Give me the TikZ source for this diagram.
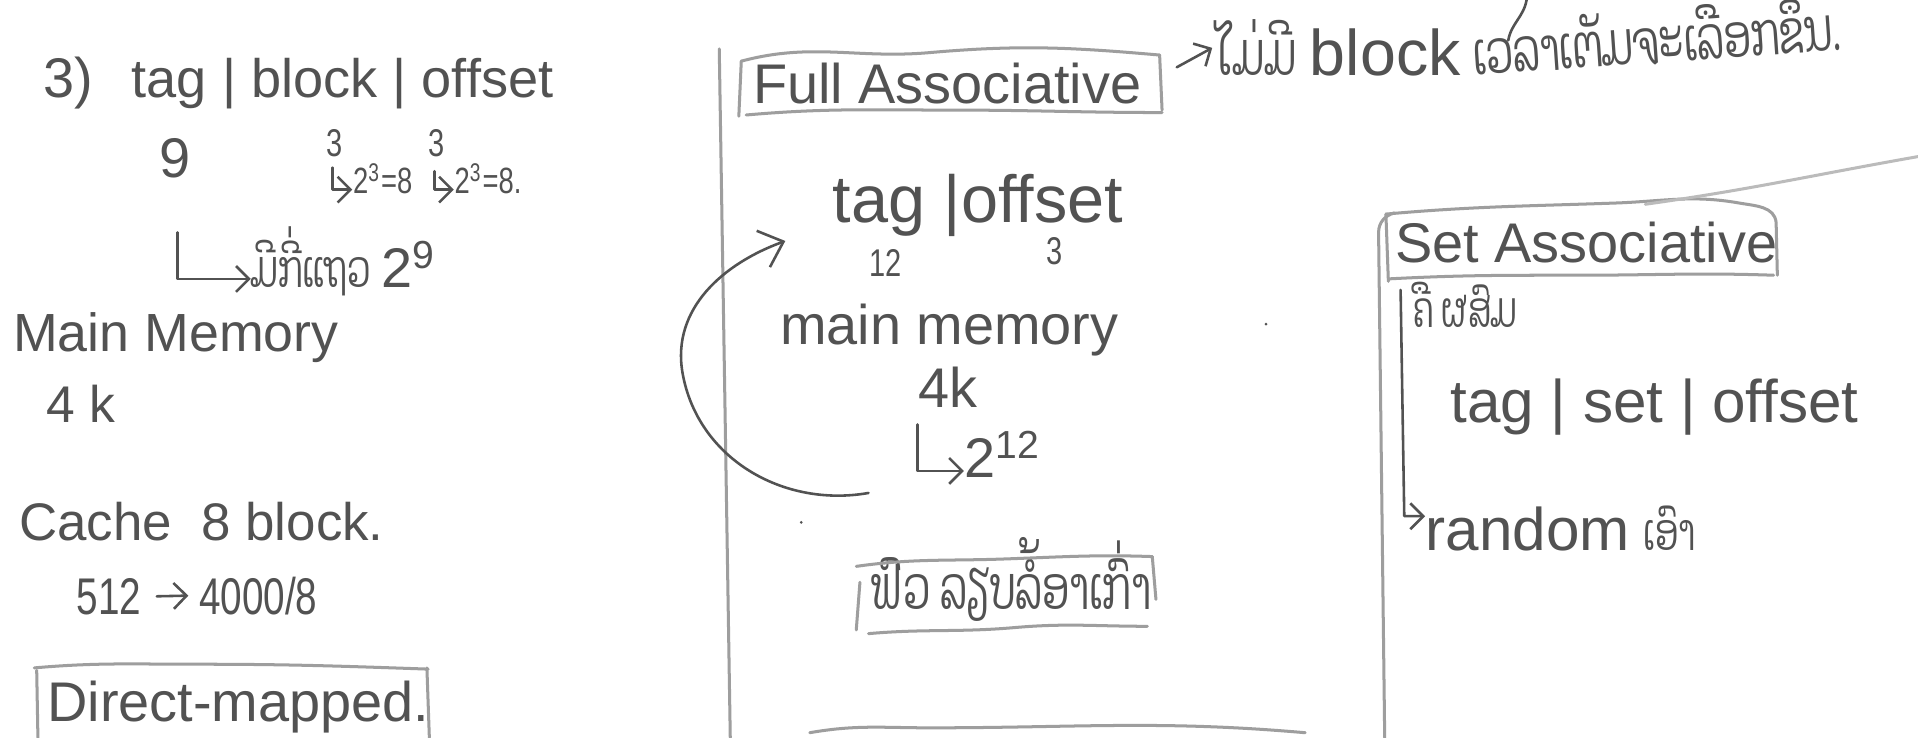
\documentclass[tikz,border=0pt]{standalone}
\usepackage{fontspec}
\setmainfont{Liberation Sans}
\newfontfamily\narrowfont[FakeStretch=0.75]{Liberation Sans}
\newfontfamily\laofont[Script=Lao,FakeStretch=0.65]{Dhyana}
\usepackage{tikz}
\usetikzlibrary{arrows,arrows.meta}
\usetikzlibrary{calc}
\colorlet{pencil}{black!68}
\colorlet{pencilfaint}{black!38}
\tikzset{>={Straight Barb[length=3pt,width=6pt]}}
\tikzstyle{hand}=[text=pencil, inner sep=0pt, anchor=base west, font=\fontsize{13}{15}\selectfont]
\tikzstyle{small}=[hand, font=\narrowfont\fontsize{9}{11}\selectfont]
\tikzstyle{narrow}=[hand, font=\narrowfont\fontsize{12}{14}\selectfont]
\tikzstyle{lao}=[hand, font=\laofont\fontsize{14}{16}\selectfont]
\tikzstyle{stroke}=[draw=pencil, line width=0.6, line cap=round, line join=round]
\tikzstyle{frame}=[draw=pencilfaint, line width=0.7, line cap=round]

\begin{document}
\begin{tikzpicture}
  \useasboundingbox[fill=white] (0,0) rectangle (15.68,-6.03);

  % LEFT COLUMN : direct mapped
  \node[hand] (three) at (0.35,-0.80) {3)};
  \node[hand, font=\fontsize{12.6}{15}\selectfont] (fields) at (1.07,-0.80) {tag | block | offset};
  \node[hand] (tagbits) at (1.30,-1.45) {9};
  \node[small] (blockbits) at (2.66,-1.28) {3};
  \node[small] (offbits) at (3.50,-1.28) {3};
  \coordinate (bl) at (2.72,-1.55);
  \coordinate (ol) at (3.55,-1.55);
  \node[small, font=\narrowfont\fontsize{8.5}{10}\selectfont] (blockpow) at (2.88,-1.58) {2\textsuperscript{3}=8};
  \node[small, font=\narrowfont\fontsize{8.5}{10}\selectfont] (offpow) at (3.71,-1.58) {2\textsuperscript{3}=8.};
  \draw[stroke,->] (2.72,-1.37) -- (bl) -- (blockpow.west |- bl);
  \draw[stroke,->] (3.55,-1.40) -- (ol) -- (offpow.west |- ol);

  \coordinate (tl) at (1.45,-2.28);
  \node[lao, font=\laofont\fontsize{12}{14}\selectfont] (rows) at (2.05,-2.35) {ມີກີ່ແຖວ};
  \node[hand, anchor=base west] (rowpow) at (rows.base east) {\,2\textsuperscript{9}};
  \draw[stroke,->] (1.45,-1.90) -- (tl) -- (rows.west |- tl);

  \node[hand, font=\fontsize{12.5}{15}\selectfont] (mm) at (0.10,-2.87) {Main Memory};
  \node[hand, font=\fontsize{12}{14}\selectfont] (mmsize) at (0.37,-3.45) {4 k};
  \node[hand, font=\fontsize{12.3}{15}\selectfont] (cache) at (0.15,-4.42) {Cache \ 8 block.};
  \node[narrow] (lines) at (0.62,-5.02) {512};
  \node[narrow] (div) at (1.62,-5.02) {4000/8};
  \draw[stroke,->] ($(lines.east)+(0.12,0)$) -- ($(div.west)+(-0.08,0)$);

  \node[hand] (dm) at (0.38,-5.90) {Direct-mapped.};
  \draw[frame] (0.28,-5.46) to[out=5,in=180] (1.6,-5.43) to[out=0,in=178] (3.50,-5.47);
  \draw[frame] (0.30,-5.48) -- (0.31,-6.03);
  \draw[frame] (3.49,-5.46) -- (3.51,-6.03);

  % MIDDLE COLUMN : full associative
  \draw[frame] (5.88,-0.40) -- (5.97,-6.03);
  \node[hand] (fa) at (6.15,-0.85) {Full Associative};
  \draw[frame] (6.06,-0.50) to[out=15,in=185] (7.6,-0.43) to[out=5,in=175] (9.48,-0.45);
  \draw[frame] (6.06,-0.50) -- (6.04,-0.95);
  \draw[frame] (9.48,-0.45) -- (9.50,-0.90);
  \draw[frame] (6.10,-0.94) to[out=5,in=180] (7.8,-0.90) to[out=0,in=180] (9.50,-0.92);

  \node[lao] (nofix) at (9.95,-0.62) {ໄມ່ມີ};
  \node[hand, font=\fontsize{15}{17}\selectfont] (anyblock) at ($(nofix.base east)+(0.10,0)$) {block};
  \node[lao, rotate=4] (whenfull) at ($(anyblock.base east)+(0.10,0)$) {ເວລາເຕັມຈະເລືອກຂຶ້ນ.};
  \draw[stroke,->] (9.62,-0.55) -- ($(nofix.west)+(-0.04,0)$);
  \draw[stroke] (12.48,0.0) to[out=-100,in=80] (12.33,-0.33);

  \node[hand, font=\fontsize{15.5}{17}\selectfont] (fafields) at (6.80,-1.82) {tag |offset};
  \node[small] (fatag) at (7.10,-2.26) {12};
  \node[small] (faoff) at (8.55,-2.16) {3};
  \node[hand] (famm) at (6.37,-2.82) {main memory};
  \node[hand] (fasize) at (7.50,-3.33) {4k};
  \coordinate (fl) at (7.50,-3.85);
  \node[hand] (fapow) at (7.88,-3.90) {2\textsuperscript{12}};
  \draw[stroke,->] (7.50,-3.47) -- (fl) -- (fapow.west |- fl);

  \coordinate (loopstart) at (7.10,-4.03);
  \coordinate (loopend) at (6.42,-1.97);
  \draw[stroke,-{Straight Barb[length=5pt,width=9pt]}] (loopstart) to[out=190,in=-80] (5.58,-3.05) to[out=100,in=200] (loopend);
  \fill[pencil] (6.55,-4.27) circle (0.012);

  \node[lao] (replace) at (7.12,-4.98) {ຟົວ ລຽບລໍ້ອາເກົ່າ};
  \draw[frame] (7.00,-4.63) to[out=8,in=182] (8.2,-4.57) to[out=2,in=178] (9.42,-4.55);
  \draw[frame] (9.42,-4.55) -- (9.45,-4.90);
  \draw[frame] (7.03,-4.76) -- (7.00,-5.15);
  \draw[frame] (7.10,-5.18) to[out=5,in=185] (8.3,-5.13) to[out=5,in=180] (9.38,-5.12);
  \draw[frame] (6.62,-5.99) to[out=10,in=180] (7.6,-5.95) to[out=0,in=175] (10.67,-5.99);

  % RIGHT COLUMN : set associative
  \draw[frame] (11.40,-1.74) to[out=195,in=90] (11.27,-1.90) -- (11.32,-6.03);
  \draw[frame] (11.33,-1.75) to[out=5,in=182] (13.2,-1.66) to[out=2,in=170] (14.22,-1.66)
    to[out=-10,in=95] (14.52,-1.82) -- (14.53,-2.25);
  \draw[frame] (11.33,-1.75) -- (11.35,-2.30);
  \draw[frame] (11.35,-2.28) to[out=3,in=180] (12.9,-2.25) to[out=0,in=178] (14.50,-2.25);
  \draw[frame, draw=pencilfaint!70] (13.45,-1.67) to[out=8,in=190] (15.68,-1.28);

  \node[hand] (sa) at (11.40,-2.15) {Set Associative};
  \node[lao, font=\laofont\fontsize{11.5}{14}\selectfont] (mixed) at (11.55,-2.68) {ຄື ຜສົມ};
  \node[hand, font=\fontsize{14}{16}\selectfont] (safields) at (11.85,-3.45) {tag | set | offset};
  \node[hand, font=\fontsize{14}{16}\selectfont] (random) at (11.65,-4.50) {random};
  \node[lao, font=\laofont\fontsize{12}{14}\selectfont] (take) at ($(random.base east)+(0.10,0)$) {ເອົາ};
  \coordinate (sl) at (11.48,-4.22);
  \draw[stroke,->] (11.45,-2.37) -- (sl) -- (random.west |- sl);
  \fill[pencil] (10.35,-2.65) circle (0.012);

\end{tikzpicture}
\end{document}
